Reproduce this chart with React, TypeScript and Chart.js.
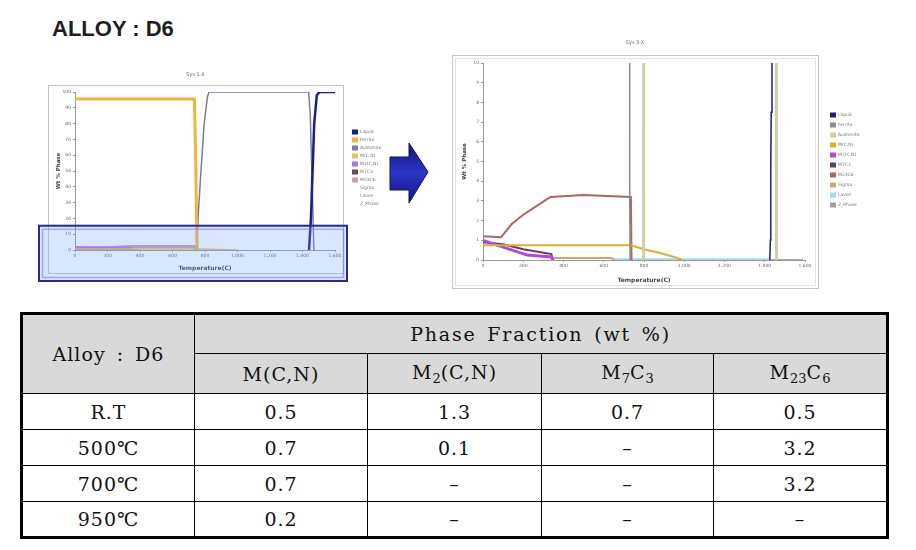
import React, { useEffect, useRef } from "react";
import { Chart, registerables } from "chart.js";
Chart.register(...registerables);

// ---------------- Data ----------------
type P = [number, number];
const SERIES_LABELS = ["Liquid", "Ferrite", "Austenite", "M(C,N)", "M2(C,N)", "M7C3", "M23C6", "Sigma", "Laves", "Z_Phase"];
const L_COLORS = ["#1c1c8c", "#f0b43c", "#7c7c9c", "#e2c25a", "#b070e0", "#6a4a62", "#c0a0b0", "#c8a878", "#a8d8f0", "#a8a8a8"];
const R_COLORS = ["#1c1c8c", "#8c8c8c", "#cfcfa6", "#d8b034", "#b048d8", "#6a3c5a", "#b26464", "#c8a878", "#a8d8f0", "#a0a0a0"];

// Sys 1-X (temperature °C, wt % phase)
const L_LIQUID: P[] = [[1440, 0], [1452, 20], [1462, 50], [1472, 80], [1488, 98], [1505, 100], [1600, 100]];
const L_FERRITE: P[] = [[0, 95.5], [735, 95.5], [742, 60], [748, 20], [752, 0]];
const L_AUSTENITE: P[] = [[748, 0], [760, 25], [775, 50], [795, 80], [815, 97], [825, 100], [1438, 100], [1448, 85], [1460, 40], [1470, 0]];
const L_MCN: P[] = [[0, 0.7], [740, 0.7], [950, 0.2], [1000, 0]];
const L_M2CN: P[] = [[0, 1.3], [200, 1.0], [340, 0.8], [350, 0]];
const L_M7C3: P[] = [[0, 0.7], [340, 0.1], [400, 0]];
const L_M23C6: P[] = [[0, 0.5], [100, 1.0], [340, 2.2], [735, 2.2], [745, 0]];
const L_SIGMA: P[] = [];
const L_LAVES: P[] = [];
const L_Z: P[] = [];

// Sys 3-X (temperature °C, wt % phase)
const R_LIQUID: P[] = [[1425, 0], [1428, 1], [1430, 4.7], [1432, 7.5], [1436, 12], [1460, 60], [1490, 100], [1600, 100]];
const R_FERRITE: P[] = [[0, 95], [726, 95], [728, 6.9], [730, 2.7], [731, 0]];
const R_AUSTENITE: P[] = [[798, 0], [802, 100], [1452, 100], [1458, 0]];
const R_MCN: P[] = [[0, 0.75], [735, 0.75], [800, 0.55], [870, 0.38], [950, 0.15], [990, 0]];
const R_M2CN: P[] = [[0, 1.0], [130, 0.55], [220, 0.25], [340, 0.15], [350, 0]];
const R_M7C3: P[] = [[0, 0.9], [100, 0.8], [200, 0.55], [340, 0.3], [345, 0]];
const R_M23C6: P[] = [[0, 1.2], [90, 1.15], [140, 1.8], [200, 2.3], [260, 2.7], [335, 3.2], [500, 3.3], [735, 3.2], [738, 0]];
const R_SIGMA: P[] = [[340, 0.1], [640, 0.1], [650, 0]];
const R_LAVES: P[] = [[640, 0.04], [1430, 0.04]];
const R_Z: P[] = [[1430, 0.02], [1590, 0.02]];

const X_MIN = 0, X_MAX = 1600, X_STEP = 200;
const L_Y_MAX = 100, L_Y_STEP = 10;
const R_Y_MAX = 10, R_Y_STEP = 1;
const HIGHLIGHT_MAX = 16;

// Table
const TABLE_CORNER = "Alloy : D6";
const TABLE_GROUP = "Phase Fraction (wt %)";
const PHASE_HEADERS: [string, string][][] = [
  [["M(C,N)", ""]],
  [["M", ""], ["2", "s"], ["(C,N)", ""]],
  [["M", ""], ["7", "s"], ["C", ""], ["3", "s"]],
  [["M", ""], ["23", "s"], ["C", ""], ["6", "s"]],
];
const ROW_LABELS = ["R.T", "500℃", "700℃", "950℃"];
const COL_MCN = ["0.5", "0.7", "0.7", "0.2"];
const COL_M2CN = ["1.3", "0.1", "–", "–"];
const COL_M7C3 = ["0.7", "–", "–", "–"];
const COL_M23C6 = ["0.5", "3.2", "3.2", "–"];

// ---------------- Helpers ----------------
const L_WIDTHS = [2.5, 3, 1.5, 1.5, 4, 1, 3, 1, 1, 1];
const R_WIDTHS = [1.5, 1.5, 3, 2, 3, 2, 2, 2, 2, 1];

function toXY(arr: P[]) {
  return arr.map(([x, y]) => ({ x, y }));
}

const decorPlugin = {
  id: "decor",
  beforeDraw(chart: any, _a: any, o: any) {
    const { ctx, chartArea: a, width, height } = chart;
    ctx.save();
    ctx.fillStyle = "#fff";
    ctx.fillRect(0, 0, width, height);
    const f = o.frame;
    ctx.strokeStyle = "#c4c4c4";
    ctx.lineWidth = 1;
    ctx.strokeRect(a.left + f[0] + 0.5, a.top + f[1] + 0.5, a.right + f[2] - (a.left + f[0]), a.bottom + f[3] - (a.top + f[1]));
    if (o.double) {
      ctx.strokeStyle = "#e2e2e2";
      ctx.strokeRect(a.left + f[0] + 3.5, a.top + f[1] + 3.5, a.right + f[2] - (a.left + f[0]) - 6, a.bottom + f[3] - (a.top + f[1]) - 6);
    }
    ctx.restore();
  },
  afterDraw(chart: any, _a: any, o: any) {
    const { ctx, chartArea: a } = chart;
    const f = o.frame;
    ctx.save();
    ctx.fillStyle = "#666";
    ctx.font = "5px 'DejaVu Sans'";
    ctx.textAlign = "center";
    ctx.textBaseline = "middle";
    ctx.fillText(o.title, (a.left + f[0] + a.right + f[2]) / 2, a.top + o.titleDy);
    ctx.textAlign = "left";
    chart.data.datasets.forEach((ds: any, i: number) => {
      const y = a.top + o.legendTop + i * o.legendGap;
      const x = a.right + o.legendLeft;
      if (ds.data.length) {
        ctx.fillStyle = ds.borderColor;
        ctx.fillRect(x, y - 2.5, 6, 5);
      }
      ctx.fillStyle = "#777";
      ctx.font = "4.5px 'DejaVu Sans'";
      ctx.fillText(ds.label, x + 8, y);
    });
    if (o.highlight) {
      const ys = chart.scales.y;
      const top = ys.getPixelForValue(HIGHLIGHT_MAX);
      const l = a.left + o.highlight[0], r = a.right + o.highlight[1], b = a.bottom + o.highlight[2];
      ctx.fillStyle = "rgba(120,165,255,0.28)";
      ctx.fillRect(l, top, r - l, b - top);
      ctx.strokeStyle = "#2c2c86";
      ctx.lineWidth = 2;
      ctx.strokeRect(l + 1, top + 1, r - l - 2, b - top - 2);
      ctx.strokeStyle = "rgba(110,120,220,0.55)";
      ctx.lineWidth = 1.5;
      ctx.strokeRect(l + 4.5, top + 4.5, r - l - 9, b - top - 9);
    }
    ctx.restore();
  },
};

function makeConfig(series: P[][], colors: string[], widths: number[], yMax: number, yStep: number, opts: any) {
  return {
    type: "line" as const,
    data: {
      datasets: series.map((s, i) => ({
        label: SERIES_LABELS[i],
        data: toXY(s),
        borderColor: colors[i],
        backgroundColor: colors[i],
        borderWidth: widths[i],
        pointRadius: 0,
        tension: 0,
        fill: false,
      })),
    },
    options: {
      responsive: false,
      animation: false as const,
      events: [],
      layout: { padding: opts.padding },
      plugins: {
        legend: { display: false },
        title: { display: false },
        tooltip: { enabled: false },
        decor: opts.decor,
      },
      scales: {
        x: {
          type: "linear" as const,
          min: X_MIN,
          max: X_MAX,
          afterFit: (s: any) => { s.height = opts.xH; },
          ticks: { stepSize: X_STEP, color: "#666", font: { size: 4.5, family: "DejaVu Sans" }, padding: 1, maxRotation: 0 },
          grid: { display: true, drawOnChartArea: false, drawTicks: true, tickLength: 2, color: "#999" },
          border: { display: true, color: "#999" },
          title: { display: true, text: "Temperature(C)", color: "#444", font: { size: 6, weight: "bold" as const, family: "DejaVu Sans" }, padding: { top: 1, bottom: 0 } },
        },
        y: {
          type: "linear" as const,
          min: 0,
          max: yMax,
          afterFit: (s: any) => { s.width = opts.yW; },
          ticks: { stepSize: yStep, color: "#666", font: { size: 4.5, family: "DejaVu Sans" }, padding: 2 },
          grid: { display: true, drawOnChartArea: false, drawTicks: true, tickLength: 2, color: "#999" },
          border: { display: true, color: "#999" },
          title: { display: true, text: "Wt % Phase", color: "#444", font: { size: 5.5, weight: "bold" as const, family: "DejaVu Sans" }, padding: 0 },
        },
      },
    },
    plugins: [decorPlugin],
  };
}

function ChartCanvas({ cfg, left, top, width, height }: any) {
  const ref = useRef<HTMLCanvasElement | null>(null);
  useEffect(() => {
    const c = new Chart(ref.current as HTMLCanvasElement, cfg as any);
    return () => c.destroy();
  }, []);
  return <canvas ref={ref} width={width} height={height} style={{ position: "absolute", left, top, width, height }} />;
}

const leftCfg = makeConfig(
  [L_LIQUID, L_FERRITE, L_AUSTENITE, L_MCN, L_M2CN, L_M7C3, L_M23C6, L_SIGMA, L_LAVES, L_Z],
  L_COLORS, L_WIDTHS, L_Y_MAX, L_Y_STEP,
  {
    padding: { left: 19, right: 65, top: 26, bottom: 14 },
    yW: 20, xH: 22,
    decor: { title: "Sys 1-X", titleDy: -17, frame: [-27, -7, 8, 23], double: false, legendLeft: 17, legendTop: 40, legendGap: 8, highlight: [-37, 13, 32] },
  }
);

const rightCfg = makeConfig(
  [R_LIQUID, R_FERRITE, R_AUSTENITE, R_MCN, R_M2CN, R_M7C3, R_M23C6, R_SIGMA, R_LAVES, R_Z],
  R_COLORS, R_WIDTHS, R_Y_MAX, R_Y_STEP,
  {
    padding: { left: 9, right: 97, top: 27, bottom: 7 },
    yW: 22, xH: 24,
    decor: { title: "Sys 3-X", titleDy: -20, frame: [-31, -8, 13, 28], double: true, legendLeft: 25, legendTop: 52, legendGap: 10, highlight: null },
  }
);

const cellBase: React.CSSProperties = {
  border: "1px solid #000",
  textAlign: "center",
  verticalAlign: "middle",
  padding: 0,
  fontFamily: "'DejaVu Serif', serif",
  fontSize: 19,
  letterSpacing: 1,
  color: "#111",
  lineHeight: "20px",
};

function Rich({ parts }: { parts: [string, string][] }) {
  return (
    <>
      {parts.map(([t, k], i) =>
        k === "s" ? (
          <span key={i} style={{ fontSize: 13, position: "relative", top: 4, letterSpacing: 0 }}>{t}</span>
        ) : (
          <span key={i}>{t}</span>
        )
      )}
    </>
  );
}

export default function App() {
  const cols = [COL_MCN, COL_M2CN, COL_M7C3, COL_M23C6];
  const hdr: React.CSSProperties = { ...cellBase, background: "#d9d9d9" };
  return (
    <div style={{ position: "absolute", left: 0, top: 0, width: 916, height: 550, background: "#fff", overflow: "hidden" }}>
      <div style={{ position: "absolute", left: 52, top: 18, fontFamily: "'Liberation Sans', Arial, sans-serif", fontWeight: "bold", fontSize: 22, lineHeight: "22px", color: "#1e1e1e", whiteSpace: "pre" }}>
        ALLOY : D6
      </div>
      <ChartCanvas cfg={leftCfg} left={36} top={66} width={364} height={220} />
      <svg width={50} height={70} style={{ position: "absolute", left: 386, top: 138 }} viewBox="386 138 50 70">
        <defs>
          <linearGradient id="ag" x1="0" y1="0" x2="0" y2="1">
            <stop offset="0" stopColor="#14147a" />
            <stop offset="0.5" stopColor="#2a36c8" />
            <stop offset="1" stopColor="#14147a" />
          </linearGradient>
        </defs>
        <path d="M390,157 L409,157 L409,143 L428,172 L409,203 L409,190 L390,190 Z" fill="url(#ag)" stroke="#10105e" strokeWidth={1} />
      </svg>
      <ChartCanvas cfg={rightCfg} left={452} top={36} width={450} height={255} />
      <table style={{ position: "absolute", left: 20, top: 312, borderCollapse: "collapse", tableLayout: "fixed", width: 868, border: "3px solid #000" }}>
        <colgroup>
          <col style={{ width: 173 }} />
          <col style={{ width: 173 }} />
          <col style={{ width: 174 }} />
          <col style={{ width: 172 }} />
          <col style={{ width: 174 }} />
        </colgroup>
        <tbody>
          <tr style={{ height: 40 }}>
            <td rowSpan={2} style={{ ...hdr, wordSpacing: 4 }}>{TABLE_CORNER}</td>
            <td colSpan={4} style={{ ...hdr, letterSpacing: 1.8, wordSpacing: 3 }}>{TABLE_GROUP}</td>
          </tr>
          <tr style={{ height: 40 }}>
            {PHASE_HEADERS.map((p, i) => (
              <td key={i} style={hdr}><Rich parts={p} /></td>
            ))}
          </tr>
          {ROW_LABELS.map((r, ri) => (
            <tr key={ri} style={{ height: 36 }}>
              <td style={cellBase}>{r}</td>
              {cols.map((c, ci) => (
                <td key={ci} style={cellBase}>{c[ri]}</td>
              ))}
            </tr>
          ))}
        </tbody>
      </table>
    </div>
  );
}
